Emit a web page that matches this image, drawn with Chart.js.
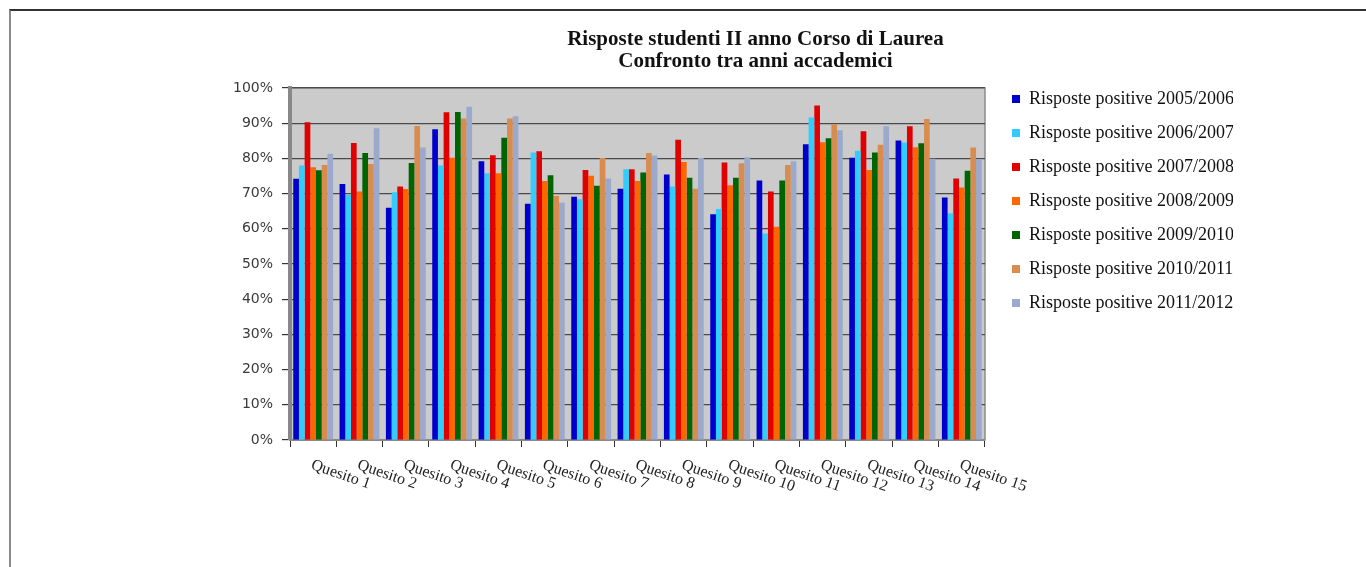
<!DOCTYPE html>
<html>
<head>
<meta charset="utf-8">
<script src="https://cdn.jsdelivr.net/npm/chart.js@4"></script>
<style>
  html, body { margin: 0; padding: 0; background: #fff; }
  #frame { position: absolute; left: 9px; top: 9px; width: 1357px; height: 558px;
           border-top: 2px solid #333; border-left: 2px solid #8a8a8a; }
  #wrap { position: absolute; left: 0; top: 0; width: 1366px; height: 567px; }
</style>
</head>
<body>
<div id="frame"></div>
<div id="wrap"><canvas id="chart"></canvas></div>
<script>
let titleLines = ["Risposte studenti II anno Corso di Laurea", "Confronto tra anni accademici"];
let categories = ["Quesito 1","Quesito 2","Quesito 3","Quesito 4","Quesito 5","Quesito 6","Quesito 7","Quesito 8",
                  "Quesito 9","Quesito 10","Quesito 11","Quesito 12","Quesito 13","Quesito 14","Quesito 15"];
let seriesNames = ["Risposte positive 2005/2006","Risposte positive 2006/2007","Risposte positive 2007/2008",
                   "Risposte positive 2008/2009","Risposte positive 2009/2010","Risposte positive 2010/2011",
                   "Risposte positive 2011/2012"];
let seriesColors = ["#0000cc","#33ccff","#e00000","#ff6600","#006400","#d98c50","#9aa9cc"];

let y0506 = [74.2,72.7,66.0,88.3,79.2,67.1,69.1,71.4,75.4,64.1,73.7,84.0,80.2,85.1,68.9];
let y0607 = [78.0,69.6,70.4,78.0,75.8,81.7,68.4,76.9,72.0,65.6,58.7,91.6,82.2,84.5,64.4];
let y0708 = [90.3,84.4,72.0,93.1,80.9,82.0,76.7,76.9,85.3,78.8,70.6,95.0,87.7,89.1,74.3];
let y0809 = [77.5,70.6,71.3,80.2,75.8,73.6,75.1,73.6,79.0,72.4,60.6,84.6,76.7,83.2,71.7];
let y0910 = [76.6,81.5,78.7,93.2,85.9,75.2,72.2,76.0,74.5,74.5,73.7,85.7,81.7,84.3,76.5];
let y1011 = [78.1,78.4,89.2,91.3,91.3,69.3,80.1,81.5,71.4,78.6,78.1,89.7,83.9,91.2,83.1];
let y1112 = [81.3,88.6,83.1,94.7,92.0,67.4,74.3,80.8,80.1,80.3,79.2,88.0,89.1,79.9,79.8];

let allSeries = [y0506, y0607, y0708, y0809, y0910, y1011, y1112];

// gray back wall behind the bars
let plotBackground = {
  id: "plotBackground",
  beforeDraw(chart) {
    let a = chart.chartArea, ctx = chart.ctx;
    ctx.save();
    ctx.fillStyle = "#cbcbcb";
    ctx.fillRect(a.left, a.top, a.right - a.left, a.bottom - a.top);
    ctx.strokeStyle = "#8c8c8c";
    ctx.lineWidth = 1.5;
    ctx.strokeRect(a.left, a.top, a.right - a.left, a.bottom - a.top);
    ctx.restore();
  }
};

// two-line title
let titleText = {
  id: "titleText",
  afterDraw(chart) {
    let ctx = chart.ctx;
    ctx.save();
    ctx.font = "bold 21px 'Liberation Serif'";
    ctx.fillStyle = "#111";
    ctx.textAlign = "center";
    ctx.textBaseline = "middle";
    let cx = chart.width * 0.553;
    ctx.fillText(titleLines[0], cx, 40);
    ctx.fillText(titleLines[1], cx, 62);
    ctx.restore();
  }
};

// x labels slanted downwards to the right
let slantLabels = {
  id: "slantLabels",
  afterDraw(chart) {
    let ctx = chart.ctx, xs = chart.scales.x;
    ctx.save();
    ctx.font = "16px 'Liberation Serif'";
    ctx.fillStyle = "#222";
    ctx.textAlign = "left";
    ctx.textBaseline = "top";
    categories.forEach(function(label, i) {
      ctx.save();
      ctx.translate(xs.getPixelForValue(i) + 1, chart.chartArea.bottom + 17);
      ctx.rotate(19 * Math.PI / 180);
      ctx.fillText(label, 0, 0);
      ctx.restore();
    });
    ctx.restore();
  }
};

// move the legend up next to the top of the plot
let legendNudge = {
  id: "legendNudge",
  afterLayout(chart) {
    chart.legend.top -= 14;
    chart.legend.left += 11;
  }
};

let ctx = document.getElementById("chart");
let chart = new Chart(ctx, {
  type: "bar",
  data: {
    labels: categories,
    datasets: allSeries.map(function(values, i) {
      return {
        label: seriesNames[i],
        data: values,
        backgroundColor: seriesColors[i],
        borderWidth: 0,
        barPercentage: 1,
        categoryPercentage: 0.86
      };
    })
  },
  options: {
    responsive: true,
    maintainAspectRatio: false,
    animation: false,
    layout: { padding: { top: 88, right: 133, left: 0, bottom: 0 } },
    plugins: {
      title: { display: false },
      tooltip: { enabled: false },
      legend: {
        position: "right",
        align: "start",
        labels: {
          boxWidth: 8,
          boxHeight: 8,
          padding: 16,
          color: "#111",
          font: { family: "'Liberation Serif'", size: 18 }
        }
      }
    },
    scales: {
      x: {
        afterFit(scale) { scale.height = 127; },
        ticks: { display: false },
        grid: { display: true, drawOnChartArea: false, offset: true, tickLength: 7, color: "#333", lineWidth: 1 },
        border: { color: "#888", width: 2 }
      },
      y: {
        min: 0,
        max: 100,
        afterFit(scale) { scale.width = 290; },
        ticks: {
          stepSize: 10,
          padding: 9,
          color: "#3a3a3a",
          font: { family: "'DejaVu Sans'", size: 14 },
          callback: function(v) { return v + "%"; }
        },
        grid: { color: "#4a4a4a", lineWidth: 1.2, tickLength: 8, tickColor: "#333" },
        border: { color: "#888", width: 4 }
      }
    }
  },
  plugins: [plotBackground, titleText, slantLabels, legendNudge]
});
</script>
</body>
</html>
